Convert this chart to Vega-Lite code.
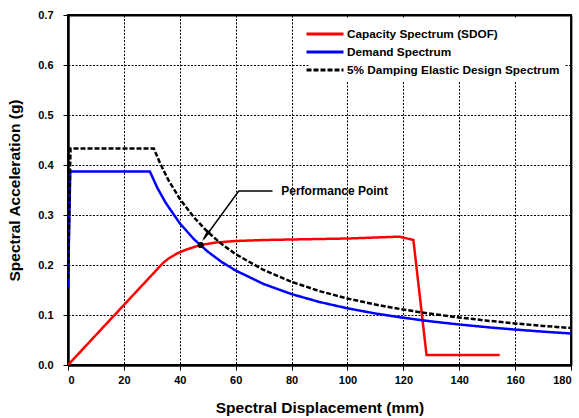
{
  "$schema": "https://vega.github.io/schema/vega-lite/v6.json",
  "width": 503,
  "height": 350,
  "autosize": "none",
  "padding": {"left": 68, "top": 15, "right": 8, "bottom": 53},
  "background": "white",
  "config": {
    "font": "Liberation Sans",
    "view": {"stroke": "black", "strokeWidth": 1.8},
    "axis": {
      "domainColor": "black", "domainWidth": 2.5,
      "tickColor": "black", "tickWidth": 1, "tickSize": 5,
      "gridColor": "black", "gridDash": [2, 1.5], "gridWidth": 1, "gridOpacity": 1,
      "labelFont": "Liberation Sans", "labelFontWeight": "bold", "labelFontSize": 11, "labelColor": "black",
      "titleFont": "Liberation Sans", "titleFontWeight": "bold", "titleFontSize": 15.5, "titleColor": "black"
    },
    "legend": {
      "labelFont": "Liberation Sans", "labelFontWeight": "bold", "labelFontSize": 11.8, "labelColor": "black", "labelLimit": 400
    }
  },
  "resolve": {"axis": {"x": "independent", "y": "independent"}},
  "datasets": {
    "curves": [
      {"series": "Capacity Spectrum (SDOF)", "sd": 0, "sa": 0},
      {"series": "Capacity Spectrum (SDOF)", "sd": 10, "sa": 0.06},
      {"series": "Capacity Spectrum (SDOF)", "sd": 20, "sa": 0.12},
      {"series": "Capacity Spectrum (SDOF)", "sd": 30, "sa": 0.18},
      {"series": "Capacity Spectrum (SDOF)", "sd": 34, "sa": 0.204},
      {"series": "Capacity Spectrum (SDOF)", "sd": 36, "sa": 0.213},
      {"series": "Capacity Spectrum (SDOF)", "sd": 39, "sa": 0.223},
      {"series": "Capacity Spectrum (SDOF)", "sd": 42.4, "sa": 0.231},
      {"series": "Capacity Spectrum (SDOF)", "sd": 47.5, "sa": 0.24},
      {"series": "Capacity Spectrum (SDOF)", "sd": 53, "sa": 0.245},
      {"series": "Capacity Spectrum (SDOF)", "sd": 60, "sa": 0.248},
      {"series": "Capacity Spectrum (SDOF)", "sd": 70, "sa": 0.25},
      {"series": "Capacity Spectrum (SDOF)", "sd": 80, "sa": 0.251},
      {"series": "Capacity Spectrum (SDOF)", "sd": 100, "sa": 0.253},
      {"series": "Capacity Spectrum (SDOF)", "sd": 118.6, "sa": 0.2567},
      {"series": "Capacity Spectrum (SDOF)", "sd": 123.6, "sa": 0.25},
      {"series": "Capacity Spectrum (SDOF)", "sd": 128.3, "sa": 0.02},
      {"series": "Capacity Spectrum (SDOF)", "sd": 154.5, "sa": 0.02},
      {"series": "Demand Spectrum", "sd": 0, "sa": 0.155},
      {"series": "Demand Spectrum", "sd": 0.8, "sa": 0.387},
      {"series": "Demand Spectrum", "sd": 29.3, "sa": 0.387},
      {"series": "Demand Spectrum", "sd": 32, "sa": 0.354},
      {"series": "Demand Spectrum", "sd": 35, "sa": 0.324},
      {"series": "Demand Spectrum", "sd": 40, "sa": 0.2835},
      {"series": "Demand Spectrum", "sd": 45, "sa": 0.252},
      {"series": "Demand Spectrum", "sd": 50, "sa": 0.2268},
      {"series": "Demand Spectrum", "sd": 55, "sa": 0.206},
      {"series": "Demand Spectrum", "sd": 60, "sa": 0.189},
      {"series": "Demand Spectrum", "sd": 70, "sa": 0.162},
      {"series": "Demand Spectrum", "sd": 80, "sa": 0.1418},
      {"series": "Demand Spectrum", "sd": 90, "sa": 0.126},
      {"series": "Demand Spectrum", "sd": 100, "sa": 0.1134},
      {"series": "Demand Spectrum", "sd": 110, "sa": 0.103},
      {"series": "Demand Spectrum", "sd": 120, "sa": 0.0945},
      {"series": "Demand Spectrum", "sd": 130, "sa": 0.0872},
      {"series": "Demand Spectrum", "sd": 140, "sa": 0.081},
      {"series": "Demand Spectrum", "sd": 150, "sa": 0.0756},
      {"series": "Demand Spectrum", "sd": 160, "sa": 0.0709},
      {"series": "Demand Spectrum", "sd": 170, "sa": 0.0667},
      {"series": "Demand Spectrum", "sd": 180, "sa": 0.063},
      {"series": "5% Damping Elastic Design Spectrum", "sd": 0, "sa": 0.173},
      {"series": "5% Damping Elastic Design Spectrum", "sd": 0.9, "sa": 0.433},
      {"series": "5% Damping Elastic Design Spectrum", "sd": 30.7, "sa": 0.433},
      {"series": "5% Damping Elastic Design Spectrum", "sd": 33, "sa": 0.403},
      {"series": "5% Damping Elastic Design Spectrum", "sd": 36, "sa": 0.369},
      {"series": "5% Damping Elastic Design Spectrum", "sd": 40, "sa": 0.3325},
      {"series": "5% Damping Elastic Design Spectrum", "sd": 45, "sa": 0.2956},
      {"series": "5% Damping Elastic Design Spectrum", "sd": 50, "sa": 0.266},
      {"series": "5% Damping Elastic Design Spectrum", "sd": 55, "sa": 0.2418},
      {"series": "5% Damping Elastic Design Spectrum", "sd": 60, "sa": 0.2217},
      {"series": "5% Damping Elastic Design Spectrum", "sd": 70, "sa": 0.19},
      {"series": "5% Damping Elastic Design Spectrum", "sd": 80, "sa": 0.1663},
      {"series": "5% Damping Elastic Design Spectrum", "sd": 90, "sa": 0.1478},
      {"series": "5% Damping Elastic Design Spectrum", "sd": 100, "sa": 0.133},
      {"series": "5% Damping Elastic Design Spectrum", "sd": 110, "sa": 0.1209},
      {"series": "5% Damping Elastic Design Spectrum", "sd": 120, "sa": 0.1108},
      {"series": "5% Damping Elastic Design Spectrum", "sd": 130, "sa": 0.1023},
      {"series": "5% Damping Elastic Design Spectrum", "sd": 140, "sa": 0.095},
      {"series": "5% Damping Elastic Design Spectrum", "sd": 150, "sa": 0.0887},
      {"series": "5% Damping Elastic Design Spectrum", "sd": 160, "sa": 0.0831},
      {"series": "5% Damping Elastic Design Spectrum", "sd": 170, "sa": 0.0782},
      {"series": "5% Damping Elastic Design Spectrum", "sd": 180, "sa": 0.0739}
    ],
    "leader": [
      {"order": 1, "sd": 48.6, "sa": 0.252},
      {"order": 2, "sd": 61.1, "sa": 0.348},
      {"order": 3, "sd": 73.2, "sa": 0.348}
    ],
    "arrow": [{"sd": 49.2, "sa": 0.258}],
    "ppoint": [{"sd": 47.5, "sa": 0.24}],
    "label": [{"sd": 76.3, "sa": 0.348, "text": "Performance Point"}]
  },
  "layer": [
    {
      "data": {"name": "curves"},
      "mark": {"type": "line", "strokeWidth": 2.5, "clip": true},
      "encoding": {
        "x": {"field": "sd", "type": "quantitative",
          "scale": {"domain": [0, 180], "nice": false},
          "axis": {"values": [0, 20, 40, 60, 80, 100, 120, 140, 160, 180], "title": "Spectral Displacement (mm)", "labelPadding": 4, "titlePadding": 15}},
        "y": {"field": "sa", "type": "quantitative",
          "scale": {"domain": [0, 0.7], "nice": false},
          "axis": {"values": [0, 0.1, 0.2, 0.3, 0.4, 0.5, 0.6, 0.7], "format": ".1f", "title": "Spectral Acceleration (g)", "labelPadding": 10, "titlePadding": 15}},
        "color": {"field": "series", "type": "nominal",
          "scale": {"domain": ["Capacity Spectrum (SDOF)", "Demand Spectrum", "5% Damping Elastic Design Spectrum"], "range": ["#ff0000", "#0000ff", "#000000"]},
          "legend": {"title": null, "orient": "none", "legendX": 242, "legendY": 4, "fillColor": "white", "padding": 4,
            "symbolType": "M-2,0L2,0", "symbolSize": 342, "symbolStrokeWidth": 3, "labelOffset": 11, "rowPadding": 0}},
        "strokeDash": {"field": "series", "type": "nominal",
          "scale": {"domain": ["Capacity Spectrum (SDOF)", "Demand Spectrum", "5% Damping Elastic Design Spectrum"], "range": [[1, 0], [1, 0], [5, 2]]},
          "legend": {"title": null, "orient": "none", "legendX": 242, "legendY": 4, "fillColor": "white", "padding": 4,
            "symbolType": "M-2,0L2,0", "symbolSize": 342, "symbolStrokeWidth": 3, "labelOffset": 11, "rowPadding": 0}}
      }
    },
    {
      "data": {"name": "leader"},
      "mark": {"type": "line", "color": "black", "strokeWidth": 1.5},
      "encoding": {
        "x": {"field": "sd", "type": "quantitative",
          "axis": {"orient": "top", "labels": false, "ticks": false, "grid": false, "title": null, "domainWidth": 1.8}},
        "y": {"field": "sa", "type": "quantitative",
          "axis": {"orient": "right", "labels": false, "ticks": false, "grid": false, "title": null, "domainWidth": 1.8}},
        "order": {"field": "order"}
      }
    },
    {
      "data": {"name": "arrow"},
      "mark": {"type": "point", "shape": "M0,-1L0.32,1L-0.32,1Z", "filled": true, "color": "black", "opacity": 1, "size": 160, "angle": 215},
      "encoding": {
        "x": {"field": "sd", "type": "quantitative", "axis": null},
        "y": {"field": "sa", "type": "quantitative", "axis": null}
      }
    },
    {
      "data": {"name": "ppoint"},
      "mark": {"type": "circle", "color": "black", "opacity": 1, "size": 38},
      "encoding": {
        "x": {"field": "sd", "type": "quantitative", "axis": null},
        "y": {"field": "sa", "type": "quantitative", "axis": null}
      }
    },
    {
      "data": {"name": "label"},
      "mark": {"type": "text", "align": "left", "baseline": "middle", "font": "Liberation Sans", "fontWeight": "bold", "fontSize": 12, "color": "black"},
      "encoding": {
        "x": {"field": "sd", "type": "quantitative", "axis": null},
        "y": {"field": "sa", "type": "quantitative", "axis": null},
        "text": {"field": "text"}
      }
    }
  ]
}
